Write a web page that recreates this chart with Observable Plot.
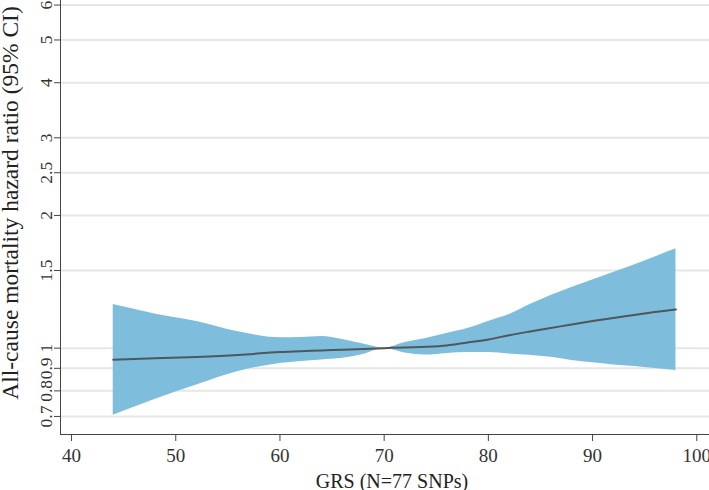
<!DOCTYPE html>
<html><head><meta charset="utf-8">
<script src="https://cdn.jsdelivr.net/npm/d3@7"></script>
<script src="https://cdn.jsdelivr.net/npm/@observablehq/plot@0.6"></script>
<style>body{margin:0;background:#fff} svg{display:block}</style>
</head><body><div id="chart"></div>
<script>
const grs   = [44, 48, 52, 56, 60, 62, 64, 66, 68, 70, 72, 74, 76, 78, 80, 82, 84, 86, 88, 90, 92, 94, 96, 98];
const hr    = [0.941, 0.948, 0.955, 0.965, 0.980, 0.984, 0.988, 0.992, 0.996, 1.0, 1.004, 1.007, 1.014, 1.030, 1.046, 1.070, 1.091, 1.111, 1.132, 1.152, 1.171, 1.189, 1.208, 1.224];
const lower = [0.704, 0.765, 0.825, 0.885, 0.923, 0.933, 0.940, 0.948, 0.968, 1.0, 0.975, 0.965, 0.973, 0.978, 0.978, 0.970, 0.963, 0.953, 0.938, 0.926, 0.916, 0.909, 0.899, 0.890];
const upper = [1.256, 1.196, 1.150, 1.089, 1.056, 1.057, 1.063, 1.046, 1.022, 1.0, 1.030, 1.052, 1.080, 1.108, 1.150, 1.192, 1.256, 1.317, 1.373, 1.428, 1.485, 1.544, 1.610, 1.680];
const yTicks = [0.7, 0.8, 0.9, 1, 1.5, 2, 2.5, 3, 4, 5, 6];
const xTicks = [40, 50, 60, 70, 80, 90, 100];
const xLabel = "GRS (N=77 SNPs)";
const yLabel = "All-cause mortality hazard ratio (95% CI)";

const data = grs.map((g, i) => ({grs: g, hr: hr[i], lo: lower[i], hi: upper[i]}));
const xDom = [38.94, 101.22];
const yDom = [0.637, 6.145];

const chart = Plot.plot({
  width: 709, height: 490,
  marginLeft: 60, marginRight: 0, marginTop: 0, marginBottom: 56,
  style: {fontFamily: "'Liberation Serif', serif", background: "#fff", color: "#333"},
  x: {domain: xDom},
  y: {type: "log", domain: yDom},
  marks: [
    Plot.gridY(yTicks, {stroke: "#e6e6e6", strokeWidth: 2, strokeOpacity: 1}),
    Plot.areaY(data, {x: "grs", y1: "lo", y2: "hi", fill: "#7ebedc", curve: "monotone-x"}),
    Plot.lineY(data, {x: "grs", y: "hr", stroke: "#4f565c", strokeWidth: 2, curve: "monotone-x"}),
    Plot.ruleX([xDom[0]], {stroke: "#444", strokeWidth: 1}),
    Plot.ruleY([yDom[0]], {stroke: "#444", strokeWidth: 1}),
    Plot.axisX(xTicks, {tickSize: 7, tickPadding: 7, fontSize: 19, label: null, stroke: "#444", tickFormat: d => String(d)}),
    Plot.axisY(yTicks, {tickRotate: -90, tickSize: 6, tickPadding: 3, fontSize: 17.5, label: null, stroke: "#444", tickFormat: d => String(d)}),
    Plot.text([yLabel], {frameAnchor: "left", textAnchor: "middle", lineAnchor: "middle", rotate: -90, dx: -50.5, dy: -14.5, fontSize: 23.5, fill: "#222"}),
    Plot.text([xLabel], {frameAnchor: "bottom", textAnchor: "middle", lineAnchor: "middle", dx: 7, dy: 46.6, fontSize: 20, fill: "#222"})
  ]
});
document.getElementById("chart").appendChild(chart);
</script>
</body></html>
